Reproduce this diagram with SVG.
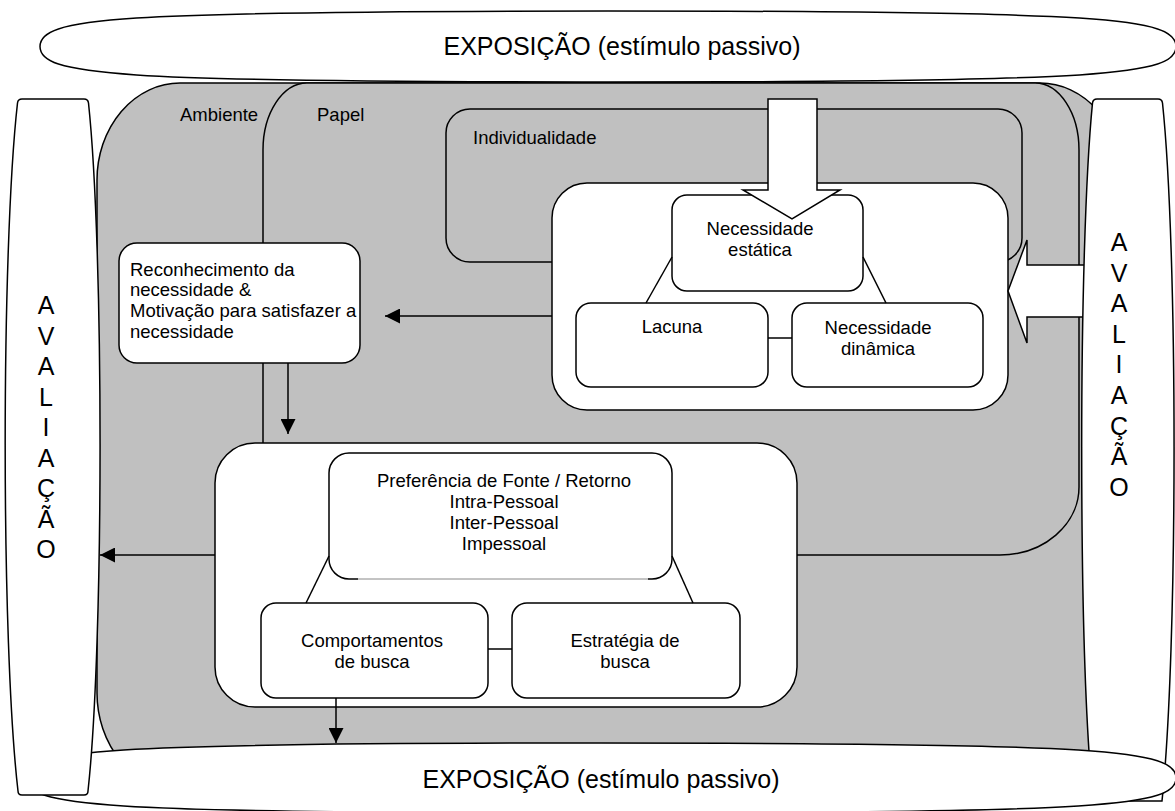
<svg xmlns="http://www.w3.org/2000/svg" width="1175" height="811" viewBox="0 0 1175 811">
<defs>
<style>
.g{fill:#c0c0c0;stroke:#000;stroke-width:1.5}
.w{fill:#fff;stroke:#000;stroke-width:1.5}
.ln{fill:none;stroke:#000;stroke-width:1.5}
.t{font-family:"Liberation Sans",Arial,sans-serif;font-size:18.5px;fill:#000}
.c{text-anchor:middle}
.big{font-family:"Liberation Sans",Arial,sans-serif;font-size:25px;fill:#000;text-anchor:middle}
</style>
<marker id="ah" viewBox="0 0 10 10" refX="10" refY="5" markerWidth="15" markerHeight="15" markerUnits="userSpaceOnUse" orient="auto">
<path d="M0,0 L10,5 L0,10 Z" fill="#000"/>
</marker>
</defs>
<rect width="1175" height="811" fill="#fff"/>

<g id="ambiente">
<path class="g" d="M97,180 A83,97 0 0 1 180,83 L1040,83 A83,97 0 0 1 1123,180 L1123,693 A83,97 0 0 1 1040,790 L180,790 A83,97 0 0 1 97,693 Z"/>
<text class="t" x="180" y="121">Ambiente</text>
</g>
<g id="papel">
<path class="g" d="M263,150 A44,67 0 0 1 307,83 L1035,83 A44,67 0 0 1 1079,150 L1079,487 A79,68 0 0 1 1000,555 L300,555 A37,37 0 0 1 263,518 Z"/>
<text class="t" x="317" y="121">Papel</text>
</g>
<g id="individualidade">
<rect class="g" x="446" y="109" width="576" height="153" rx="24" ry="24"/>
<text class="t" x="473" y="144">Individualidade</text>
</g>
<g id="necessidade">
<rect class="w" x="552" y="183" width="456" height="227" rx="35" ry="35"/>
</g>
<g id="estatica">
<rect class="w" x="672" y="195" width="191" height="96" rx="15" ry="15"/>
</g>
<g id="lacuna">
<rect class="w" x="576" y="303" width="192" height="84" rx="15" ry="15"/>
<text class="t c" x="672" y="333">Lacuna</text>
</g>
<g id="dinamica">
<rect class="w" x="792" y="303" width="191" height="84" rx="15" ry="15"/>
<text class="t c" x="878" y="334">Necessidade</text>
<text class="t c" x="878" y="355">dinâmica</text>
</g>
<g id="seta-exposicao">
<path class="w" d="M768,99 L817,99 L817,190 L840,190 L792,219 L743,190 L768,190 Z"/>
</g>
<g id="estatica-texto">
<text class="t c" x="760" y="235">Necessidade</text>
<text class="t c" x="760" y="256">estática</text>
</g>
<g id="reconhecimento">
<rect class="w" x="119" y="243" width="241" height="120" rx="18" ry="18"/>
<text class="t" x="130" y="276">Reconhecimento da</text>
<text class="t" x="130" y="296">necessidade &amp;</text>
<text class="t" x="130" y="317">Motivação para satisfazer a</text>
<text class="t" x="130" y="338">necessidade</text>
</g>
<g id="busca">
<rect class="w" x="215" y="443" width="582" height="264" rx="40" ry="40"/>
</g>
<g id="preferencia">
<rect x="329" y="453" width="343" height="126" rx="20" ry="20" fill="#fff"/>
<path class="ln" d="M358,579 L349,579 A20,20 0 0 1 329,559 L329,473 A20,20 0 0 1 349,453 L652,453 A20,20 0 0 1 672,473 L672,559 A20,20 0 0 1 652,579 L648,579"/>
<line x1="358" y1="579" x2="648" y2="579" stroke="#888" stroke-width="1"/>
<text class="t c" x="504" y="487">Preferência de Fonte / Retorno</text>
<text class="t c" x="504" y="508">Intra-Pessoal</text>
<text class="t c" x="504" y="529">Inter-Pessoal</text>
<text class="t c" x="504" y="550">Impessoal</text>
</g>
<g id="comportamentos">
<rect class="w" x="261" y="603" width="227" height="95" rx="15" ry="15"/>
<text class="t c" x="372" y="647">Comportamentos</text>
<text class="t c" x="372" y="668">de busca</text>
</g>
<g id="estrategia">
<rect class="w" x="512" y="603" width="228" height="95" rx="15" ry="15"/>
<text class="t c" x="625" y="647">Estratégia de</text>
<text class="t c" x="625" y="668">busca</text>
</g>
<g id="seta-avaliacao">
<path class="w" d="M1086,265 L1027,265 L1027,240 L1008,291 L1027,343 L1027,317 L1086,317"/>
</g>
<g id="avaliacao-direita">
<path class="w" d="M1097,99 L1158,99 Q1162,99 1162.5,103 C1178,250 1178,650 1162,801 L1093,801 C1078,650 1078,250 1092.5,103 Q1093,99 1097,99 Z"/>
<g class="big">
<text x="1119" y="251">A</text>
<text x="1119" y="282">V</text>
<text x="1119" y="312">A</text>
<text x="1119" y="343">L</text>
<text x="1119" y="373">I</text>
<text x="1119" y="404">A</text>
<text x="1119" y="435">Ç</text>
<text x="1119" y="465">Ã</text>
<text x="1119" y="496">O</text>
</g>
</g>
<g id="exposicao-inferior">
<path class="w" d="M26,778 C26,750 95,743 601,743 C1107,743 1176,750 1176,778 C1176,806 1107,813 601,813 C95,813 26,806 26,778 Z"/>
<text class="big" x="601" y="788">EXPOSIÇÃO (estímulo passivo)</text>
</g>
<g id="avaliacao-esquerda">
<path class="w" d="M22,99 L84,99 Q88,99 88.5,103 C104,250 104,645 88,791 Q88,795 84,795 L22,795 Q18,795 18,791 C1,645 1,250 17.5,103 Q18,99 22,99 Z"/>
<g class="big">
<text x="46" y="314">A</text>
<text x="46" y="345">V</text>
<text x="46" y="375">A</text>
<text x="46" y="406">L</text>
<text x="46" y="436">I</text>
<text x="46" y="467">A</text>
<text x="46" y="497">Ç</text>
<text x="46" y="528">Ã</text>
<text x="46" y="558">O</text>
</g>
</g>
<g id="exposicao-superior">
<path class="w" d="M40,46.5 C40,18 108,11 608,11 C1108,11 1176,18 1176,46.5 C1176,75 1108,82 608,82 C108,82 40,75 40,46.5 Z"/>
<text class="big" x="622" y="55">EXPOSIÇÃO (estímulo passivo)</text>
</g>

<g id="connectors">
<line class="ln" x1="552" y1="316" x2="385" y2="316" marker-end="url(#ah)"/>
<line class="ln" x1="288" y1="363" x2="288" y2="434" marker-end="url(#ah)"/>
<line class="ln" x1="215" y1="555" x2="100" y2="555" marker-end="url(#ah)"/>
<line class="ln" x1="336" y1="698" x2="336" y2="743" marker-end="url(#ah)"/>
<line class="ln" x1="646" y1="303" x2="672" y2="257"/>
<line class="ln" x1="863" y1="257" x2="886" y2="303"/>
<line class="ln" x1="768" y1="338" x2="792" y2="338"/>
<line class="ln" x1="329" y1="556" x2="306" y2="603"/>
<line class="ln" x1="672" y1="556" x2="693" y2="603"/>
<line class="ln" x1="488" y1="649" x2="512" y2="649"/>
</g>
</svg>
